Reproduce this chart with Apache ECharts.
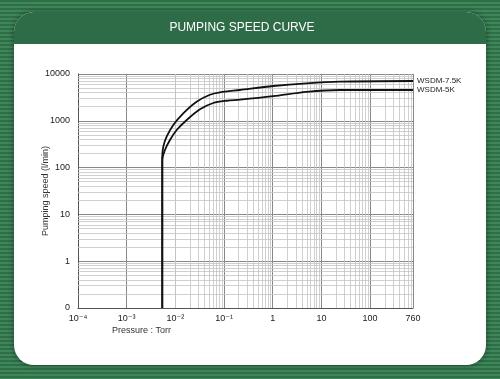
<!DOCTYPE html>
<html>
<head>
<meta charset="utf-8">
<script src="https://cdn.jsdelivr.net/npm/echarts@6/dist/echarts.min.js"></script>
<style>
html,body{margin:0;padding:0;}
body{width:500px;height:379px;overflow:hidden;
background:repeating-linear-gradient(to bottom,#2e6f48 0px,#2e6f48 2px,#3f875b 2px,#3f875b 4px);}
#c{width:500px;height:379px;}
</style>
</head>
<body>
<div id="c"></div>
<script>
// Data (pressure in Torr, pumping speed in l/min)
var seriesNames = ['WSDM-7.5K', 'WSDM-5K'];
var pressure75 = [0.00538, 0.00538, 0.00565, 0.00662, 0.00906, 0.0145, 0.0273, 0.0513, 0.0824, 0.212, 1.02, 4.97, 24, 760];
var speed75    = [0.1,     171,     280,     457,     813,     1445,   2560,   3600,   4050,   4550,  5540, 6330, 6850, 7080];
var pressure5  = [0.00538, 0.00538, 0.00611, 0.00774, 0.01064, 0.0171, 0.032, 0.06, 0.113, 0.212, 1.02, 4.97, 24, 760];
var speed5     = [0.1,     145,     238,     389,     636,     1040,   1760,  2400, 2680,  2820,  3350, 4150, 4550, 4550];
var xTickValues = [1e-4, 1e-3, 1e-2, 1e-1, 1, 10, 100, 760];
var xTickLabels = ['10\u207B\u2074', '10\u207B\u00B3', '10\u207B\u00B2', '10\u207B\u00B9', '1', '10', '100', '760'];
var yTickValues = [0.1, 1, 10, 100, 1000, 10000];
var yTickLabels = ['0', '1', '10', '100', '1000', '10000'];
var titleText = 'PUMPING SPEED CURVE';
var xAxisName = 'Pressure : Torr';
var yAxisName = 'Pumping speed (l/min)';

function pairs(xs, ys){ return xs.map(function(x,i){ return [x, ys[i]]; }); }
function lookup(vals, labels, v){
  for (var i=0;i<vals.length;i++){ if (Math.abs(Math.log10(v)-Math.log10(vals[i]))<1e-6) return labels[i]; }
  return '';
}
// minor grid positions (2..9 within each decade)
var minorX = [], minorY = [];
for (var e=-4;e<=2;e++){ for (var m=2;m<=9;m++){ var v=m*Math.pow(10,e); if (v<760) minorX.push({xAxis:v}); } }
for (var e2=-1;e2<=3;e2++){ for (var m2=2;m2<=9;m2++){ minorY.push({yAxis:m2*Math.pow(10,e2)}); } }

var FONT = 'Liberation Sans, Arial, DejaVu Sans, sans-serif';
var chart = echarts.init(document.getElementById('c'), null, {renderer:'canvas'});
chart.setOption({
  animation:false,
  backgroundColor:'transparent',
  graphic:[
    {type:'rect', z:-10, shape:{x:14,y:12,width:472,height:353,r:20}, style:{fill:'#ffffff', shadowBlur:6, shadowColor:'rgba(0,0,0,0.45)'}},
    {type:'rect', z:-9, shape:{x:14,y:12,width:472,height:32,r:[20,20,0,0]}, style:{fill:'#2d6c46'}},
    {type:'text', z:10, x:242, y:28, style:{text:titleText, fill:'#ffffff', font:'12px '+FONT, align:'center', verticalAlign:'middle'}},
    {type:'text', z:10, x:112, y:326, style:{text:xAxisName, fill:'#333333', font:'9px '+FONT, align:'left', verticalAlign:'top'}}
  ],
  grid:{left:78, right:87, top:74, bottom:71, containLabel:false},
  xAxis:{
    type:'log', min:1e-4, max:760, logBase:10,
    axisLine:{show:true, lineStyle:{color:'#555', width:1}},
    axisTick:{show:false, customValues:xTickValues},
    axisLabel:{customValues:xTickValues, showMinLabel:true, showMaxLabel:true, margin:6,
      color:'#222', fontSize:9, fontFamily:FONT,
      formatter:function(v){ return lookup(xTickValues, xTickLabels, v); }},
    splitLine:{show:true, lineStyle:{color:'#888', width:1}}
  },
  yAxis:{
    type:'log', min:0.1, max:10000, logBase:10,
    name:yAxisName, nameLocation:'middle', nameGap:28, nameRotate:90, nameMoveOverlap:false,
    nameTextStyle:{color:'#333', fontSize:9, fontFamily:FONT},
    axisLine:{show:true, lineStyle:{color:'#555', width:1}},
    axisTick:{show:false, customValues:yTickValues},
    axisLabel:{customValues:yTickValues, showMinLabel:true, showMaxLabel:true, margin:8,
      color:'#222', fontSize:9, fontFamily:FONT,
      formatter:function(v){ return lookup(yTickValues, yTickLabels, v); }},
    splitLine:{show:true, lineStyle:{color:'#888', width:1}}
  },
  series:[
    {type:'line', name:'grid', data:[], silent:true,
     markLine:{silent:true, symbol:['none','none'], label:{show:false}, animation:false,
       lineStyle:{color:'#c4c4c4', width:0.8, type:'solid'}, emphasis:{disabled:true},
       data: minorX.concat(minorY)}},
    {type:'line', name:seriesNames[0], data:pairs(pressure75, speed75), showSymbol:false, smooth:0.3,
     lineStyle:{color:'#111', width:1.8}, z:5,
     endLabel:{show:true, formatter:seriesNames[0], distance:4, color:'#222', fontSize:8, fontFamily:FONT}},
    {type:'line', name:seriesNames[1], data:pairs(pressure5, speed5), showSymbol:false, smooth:0.3,
     lineStyle:{color:'#111', width:1.8}, z:5,
     endLabel:{show:true, formatter:seriesNames[1], distance:4, color:'#222', fontSize:8, fontFamily:FONT}}
  ]
});
</script>
</body>
</html>
